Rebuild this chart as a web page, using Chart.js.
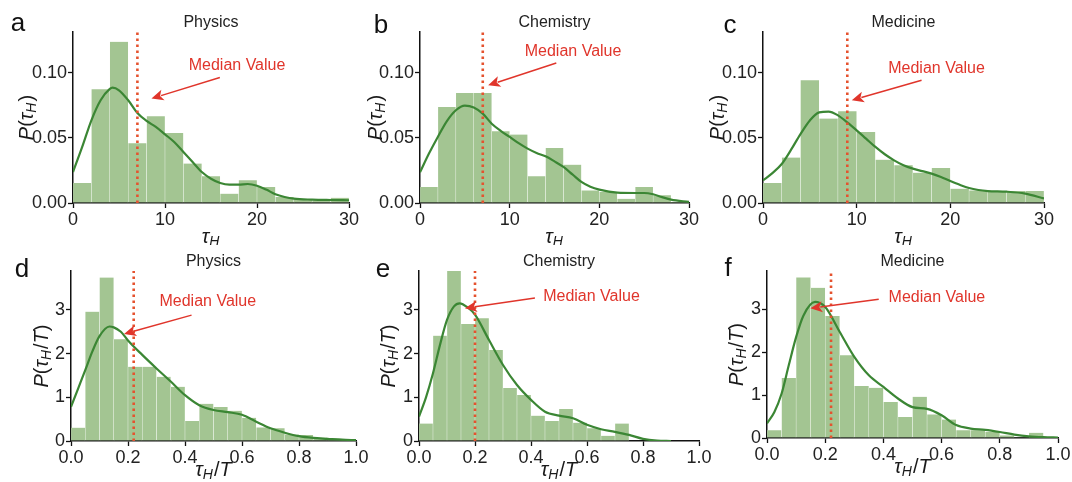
<!DOCTYPE html>
<html><head><meta charset="utf-8">
<script src="https://cdn.jsdelivr.net/npm/chart.js@4/dist/chart.umd.min.js"></script>
<style>
html,body{margin:0;padding:0;background:#fff;}
#wrap{position:relative;width:1072px;height:482px;overflow:hidden;background:#fff;}
canvas{position:absolute;}
</style></head><body><div id="wrap"></div>
<script>
// ---------- DATA ----------
const tauBinCenters = [1,3,5,7,9,11,13,15,17,19,21,23,25,27,29];
const ratioBinCenters = [0.025,0.075,0.125,0.175,0.225,0.275,0.325,0.375,0.425,0.475,0.525,0.575,0.625,0.675,0.725,0.775,0.825,0.875,0.925,0.975];
const tauTicks = [0,10,20,30];
const ratioTicks = [0,0.2,0.4,0.6,0.8,1.0];
const probTicksTau = [0,0.05,0.10];
const probTicksRatio = [0,1,2,3];

// a: Physics, tau_H
const physicsTauHist = [0.0154,0.0874,0.124,0.046,0.0667,0.0538,0.0303,0.0205,0.0072,0.0174,0.0123,0.0046,0.003,0.002,0.004];
const physicsTauKdeX = [0,1,2,3,4,4.3,5,6,7,8,9,10,11,12,13,14,15,16,17,18,19,20,21,22,23,24,26,28,30];
const physicsTauKdeY = [0.0238,0.0431,0.0636,0.079,0.0877,0.0887,0.0867,0.079,0.0692,0.0631,0.0585,0.0528,0.0469,0.0392,0.0315,0.0238,0.0187,0.0154,0.0141,0.0141,0.0146,0.0133,0.0103,0.0067,0.0046,0.0033,0.0026,0.0023,0.0021];
const physicsTauMedian = 7;

// b: Chemistry, tau_H
const chemistryTauHist = [0.0123,0.0738,0.0846,0.0846,0.0551,0.0526,0.0205,0.0423,0.0295,0.0097,0.0085,0.0033,0.0123,0.0059,0.0008];
const chemistryTauKdeX = [0,1,2,3,4,5,6,7,8,9,10,11,12,13,14,15,16,17,18,19,20,22,24,25,26,27,28,30];
const chemistryTauKdeY = [0.0236,0.038,0.051,0.063,0.0713,0.0749,0.0735,0.0687,0.061,0.0555,0.0508,0.046,0.0418,0.0385,0.0359,0.032,0.0277,0.022,0.0162,0.0125,0.0103,0.008,0.0077,0.0077,0.0067,0.0045,0.0026,0.0008];
const chemistryTauMedian = 7;

// c: Medicine, tau_H
const medicineTauHist = [0.0154,0.0349,0.0944,0.0649,0.0705,0.0546,0.0333,0.029,0.0233,0.0269,0.011,0.0097,0.0092,0.0092,0.0092];
const medicineTauKdeX = [0,1,2,3,4,5,6,7,8,9,10,11,12,13,14,15,16,17,18,19,20,21,22,23,24,26,28,30];
const medicineTauKdeY = [0.0174,0.023,0.03,0.041,0.053,0.0635,0.0697,0.0703,0.0674,0.062,0.0559,0.0495,0.0431,0.0375,0.0328,0.029,0.0264,0.0245,0.0226,0.02,0.0169,0.014,0.0115,0.01,0.0092,0.0087,0.0072,0.0035];
const medicineTauMedian = 9;

// d: Physics, tau_H/T
const physicsRatioHist = [0.305,2.96,3.74,2.33,1.70,1.70,1.47,1.24,0.46,0.85,0.78,0.69,0.53,0.31,0.29,0.15,0.14,0.08,0.05,0.04];
const physicsRatioKdeX = [0,0.025,0.05,0.075,0.1,0.135,0.15,0.175,0.2,0.25,0.3,0.35,0.4,0.45,0.5,0.55,0.6,0.65,0.7,0.75,0.8,0.85,0.9,0.95,1.0];
const physicsRatioKdeY = [0.78,1.2,1.62,2.05,2.4,2.62,2.6,2.5,2.3,1.97,1.66,1.36,1.05,0.82,0.71,0.66,0.6,0.44,0.29,0.19,0.11,0.07,0.05,0.03,0.02];
const physicsRatioMedian = 0.22;

// e: Chemistry, tau_H/T
const chemistryRatioHist = [0.40,2.41,3.89,2.68,2.81,2.08,1.21,1.05,0.58,0.46,0.73,0.42,0.29,0.12,0.40,0,0,0,0,0];
const chemistryRatioKdeX = [0,0.025,0.05,0.075,0.1,0.125,0.145,0.175,0.2,0.25,0.3,0.35,0.4,0.45,0.5,0.55,0.6,0.65,0.7,0.75,0.8,0.85,0.9];
const chemistryRatioKdeY = [0.56,1.0,1.55,2.2,2.77,3.08,3.15,3.05,2.89,2.31,1.74,1.28,0.94,0.67,0.58,0.52,0.37,0.27,0.21,0.14,0.05,0.01,0];
const chemistryRatioMedian = 0.2;

// f: Medicine, tau_H/T
const medicineRatioHist = [0.18,1.40,3.74,3.50,2.84,1.93,1.21,1.17,0.84,0.49,0.96,0.55,0.43,0.18,0.18,0.14,0.06,0.02,0.12,0];
const medicineRatioKdeX = [0,0.025,0.05,0.075,0.1,0.125,0.165,0.2,0.25,0.3,0.35,0.4,0.45,0.5,0.55,0.6,0.65,0.7,0.75,0.8,0.85,0.9,0.95,1.0];
const medicineRatioKdeY = [0.34,0.6,1.03,1.7,2.35,2.85,3.17,3.05,2.47,1.89,1.46,1.19,0.92,0.72,0.68,0.53,0.30,0.22,0.19,0.14,0.08,0.04,0.02,0.01];
const medicineRatioMedian = 0.22;

// annotation anchors in data coordinates: [textX, textY, arrowFromX, arrowFromY, arrowToX, arrowToY]
const physicsTauNote = [17.83,0.1058,15.96,0.0965,8.53,0.0803];
const chemistryTauNote = [17.07,0.1167,15.2,0.1077,7.6,0.0905];
const medicineTauNote = [18.53,0.1034,16.93,0.0944,9.48,0.079];
const physicsRatioNote = [0.48,3.18,0.423,2.88,0.186,2.45];
const chemistryRatioNote = [0.616,3.30,0.414,3.27,0.164,3.04];
const medicineRatioNote = [0.584,3.27,0.384,3.23,0.149,3.02];

// ---------- STYLE / LAYOUT ----------
const FONT = '"Liberation Sans", Arial, sans-serif';
const BAR = 'rgb(163,197,146)';
const CURVE = '#3b8634';
const MEDIAN = '#e5522e';
const NOTE = '#e0352b';

const panels = [
  {letter:'a', title:'Physics', hist:physicsTauHist, kx:physicsTauKdeX, ky:physicsTauKdeY, med:physicsTauMedian, note:physicsTauNote, kind:'tau',
   box:{L:73,R:349,T:32,B:203}, letterPos:[18,31], ylabX:27},
  {letter:'b', title:'Chemistry', hist:chemistryTauHist, kx:chemistryTauKdeX, ky:chemistryTauKdeY, med:chemistryTauMedian, note:chemistryTauNote, kind:'tau',
   box:{L:420,R:689,T:32,B:203}, letterPos:[381,33], ylabX:376},
  {letter:'c', title:'Medicine', hist:medicineTauHist, kx:medicineTauKdeX, ky:medicineTauKdeY, med:medicineTauMedian, note:medicineTauNote, kind:'tau',
   box:{L:763,R:1044,T:32,B:203}, letterPos:[730,33], ylabX:718},
  {letter:'d', title:'Physics', hist:physicsRatioHist, kx:physicsRatioKdeX, ky:physicsRatioKdeY, med:physicsRatioMedian, note:physicsRatioNote, kind:'ratio',
   box:{L:71,R:356,T:271,B:441}, letterPos:[22,277], ylabX:42},
  {letter:'e', title:'Chemistry', hist:chemistryRatioHist, kx:chemistryRatioKdeX, ky:chemistryRatioKdeY, med:chemistryRatioMedian, note:chemistryRatioNote, kind:'ratio',
   box:{L:419,R:699,T:271,B:441}, letterPos:[383,277], ylabX:389},
  {letter:'f', title:'Medicine', hist:medicineRatioHist, kx:medicineRatioKdeX, ky:medicineRatioKdeY, med:medicineRatioMedian, note:medicineRatioNote, kind:'ratio',
   box:{L:767,R:1058,T:271,B:438}, letterPos:[728,276], ylabX:737},
];

const kinds = {
  tau:   {bins:tauBinCenters, xTicks:tauTicks, yTicks:probTicksTau, xMax:30, yMax:0.1315, xd:0, yd:2,
          xlab:[{t:'τ',i:1},{t:'H',i:1,s:1}], ylab:[{t:'P',i:1},{t:'('},{t:'τ',i:1},{t:'H',i:1,s:1},{t:')'}], xlabDY:34},
  ratio: {bins:ratioBinCenters, xTicks:ratioTicks, yTicks:probTicksRatio, xMax:1, yMax:3.89, xd:1, yd:0,
          xlab:[{t:'τ',i:1},{t:'H',i:1,s:1},{t:'/'},{t:'T',i:1}], ylab:[{t:'P',i:1},{t:'('},{t:'τ',i:1},{t:'H',i:1,s:1},{t:'/'},{t:'T',i:1},{t:')'}], xlabDY:29},
};

const ML = 70, MR = 24, MT = 32, MB = 42, YW = 60, XH = 30;

function fontFor(p){ const size = p.s ? 14 : 20; return (p.i ? 'italic ' : '') + size + 'px ' + FONT; }
function drawRich(ctx, parts, cx, cy, rotate){
  ctx.save();
  ctx.translate(cx, cy);
  if (rotate) ctx.rotate(-Math.PI/2);
  let w = 0;
  parts.forEach(p => { ctx.font = fontFor(p); w += ctx.measureText(p.t).width + (p.s?1:0); });
  let x = -w/2;
  ctx.textBaseline = 'middle';
  ctx.textAlign = 'left';
  ctx.fillStyle = '#1a1a1a';
  parts.forEach(p => {
    ctx.font = fontFor(p);
    ctx.fillText(p.t, x, p.s ? 5 : 0);
    x += ctx.measureText(p.t).width + (p.s?1:0);
  });
  ctx.restore();
}

const wrap = document.getElementById('wrap');

panels.forEach(pn => {
  const k = kinds[pn.kind];
  const b = pn.box;
  const cl = b.L - ML, ct = b.T - MT;
  const cw = (b.R - b.L) + ML + MR, ch = (b.B - b.T) + MT + MB;
  const cv = document.createElement('canvas');
  cv.width = cw; cv.height = ch;
  cv.style.left = cl + 'px'; cv.style.top = ct + 'px';
  cv.style.width = cw + 'px'; cv.style.height = ch + 'px';
  wrap.appendChild(cv);

  const extras = {
    id: 'extras',
    afterDraw(chart){
      const ctx = chart.ctx, ca = chart.chartArea;
      const xs = chart.scales.x, ys = chart.scales.y;
      ctx.save();
      ctx.font = '26px ' + FONT; ctx.fillStyle = '#111'; ctx.textAlign = 'center'; ctx.textBaseline = 'alphabetic';
      ctx.fillText(pn.letter, pn.letterPos[0] - cl, pn.letterPos[1] - ct);
      ctx.font = '16px ' + FONT; ctx.fillStyle = '#222'; ctx.textBaseline = 'middle';
      ctx.fillText(pn.title, (ca.left + ca.right)/2, ca.top - 9);
      ctx.restore();
      drawRich(ctx, k.xlab, (ca.left + ca.right)/2, ca.bottom + k.xlabDY, false);
      drawRich(ctx, k.ylab, pn.ylabX - cl, (ca.top + ca.bottom)/2, true);
      const n = pn.note;
      ctx.save();
      ctx.font = '16px ' + FONT; ctx.fillStyle = NOTE; ctx.textAlign = 'center'; ctx.textBaseline = 'middle';
      ctx.fillText('Median Value', xs.getPixelForValue(n[0]), ys.getPixelForValue(n[1]));
      const x1 = xs.getPixelForValue(n[2]), y1 = ys.getPixelForValue(n[3]);
      const x2 = xs.getPixelForValue(n[4]), y2 = ys.getPixelForValue(n[5]);
      const ang = Math.atan2(y2 - y1, x2 - x1);
      const hl = 12, hw = 5.5;
      ctx.strokeStyle = NOTE; ctx.lineWidth = 1.5;
      ctx.beginPath(); ctx.moveTo(x1, y1);
      ctx.lineTo(x2 - (hl-2)*Math.cos(ang), y2 - (hl-2)*Math.sin(ang)); ctx.stroke();
      ctx.fillStyle = NOTE;
      ctx.beginPath();
      ctx.moveTo(x2, y2);
      ctx.lineTo(x2 - hl*Math.cos(ang) + hw*Math.sin(ang), y2 - hl*Math.sin(ang) - hw*Math.cos(ang));
      ctx.lineTo(x2 - (hl-3)*Math.cos(ang), y2 - (hl-3)*Math.sin(ang));
      ctx.lineTo(x2 - hl*Math.cos(ang) - hw*Math.sin(ang), y2 - hl*Math.sin(ang) + hw*Math.cos(ang));
      ctx.closePath(); ctx.fill();
      ctx.restore();
    }
  };

  new Chart(cv, {
    type: 'bar',
    data: {
      datasets: [
        {type:'line', data:[{x:pn.med,y:0},{x:pn.med,y:k.yMax}], borderColor:MEDIAN, borderWidth:2.6, borderDash:[2.4,3.6],
         pointRadius:0, order:1},
        {type:'line', data:pn.kx.map((x,i)=>({x, y:pn.ky[i]})), borderColor:CURVE, borderWidth:2.2,
         pointRadius:0, cubicInterpolationMode:'monotone', order:2},
        {type:'bar', data:k.bins.map((x,i)=>({x, y:pn.hist[i]})), backgroundColor:BAR,
         borderColor:'rgba(255,255,255,0.45)', borderWidth:{left:0.5,right:0.5,top:0,bottom:0},
         barPercentage:1, categoryPercentage:1, order:3},
      ]
    },
    options: {
      responsive:false, animation:false, devicePixelRatio:1,
      layout:{padding:{left:ML-YW, right:MR, top:MT, bottom:MB-XH}},
      plugins:{legend:{display:false}, tooltip:{enabled:false}, title:{display:false}},
      scales:{
        x:{type:'linear', min:0, max:k.xMax, offset:false,
           afterBuildTicks:s=>{ s.ticks = k.xTicks.map(v=>({value:v})); },
           afterFit:s=>{ s.height = XH; },
           ticks:{callback:v=>Number(v).toFixed(k.xd), font:{family:FONT,size:18}, color:'#222', padding:1, maxRotation:0, autoSkip:false},
           grid:{display:true, drawOnChartArea:false, offset:false, tickLength:5, tickColor:'#111', tickWidth:1.3},
           border:{display:true, color:'#111', width:1.5}},
        y:{type:'linear', min:0, max:k.yMax,
           afterBuildTicks:s=>{ s.ticks = k.yTicks.map(v=>({value:v})); },
           afterFit:s=>{ s.width = YW; },
           ticks:{callback:v=>Number(v).toFixed(k.yd), font:{family:FONT,size:18}, color:'#222', padding:1, autoSkip:false},
           grid:{display:true, drawOnChartArea:false, tickLength:5, tickColor:'#111', tickWidth:1.3},
           border:{display:true, color:'#111', width:1.5}}
      }
    },
    plugins:[extras]
  });
});
</script>
</body></html>
